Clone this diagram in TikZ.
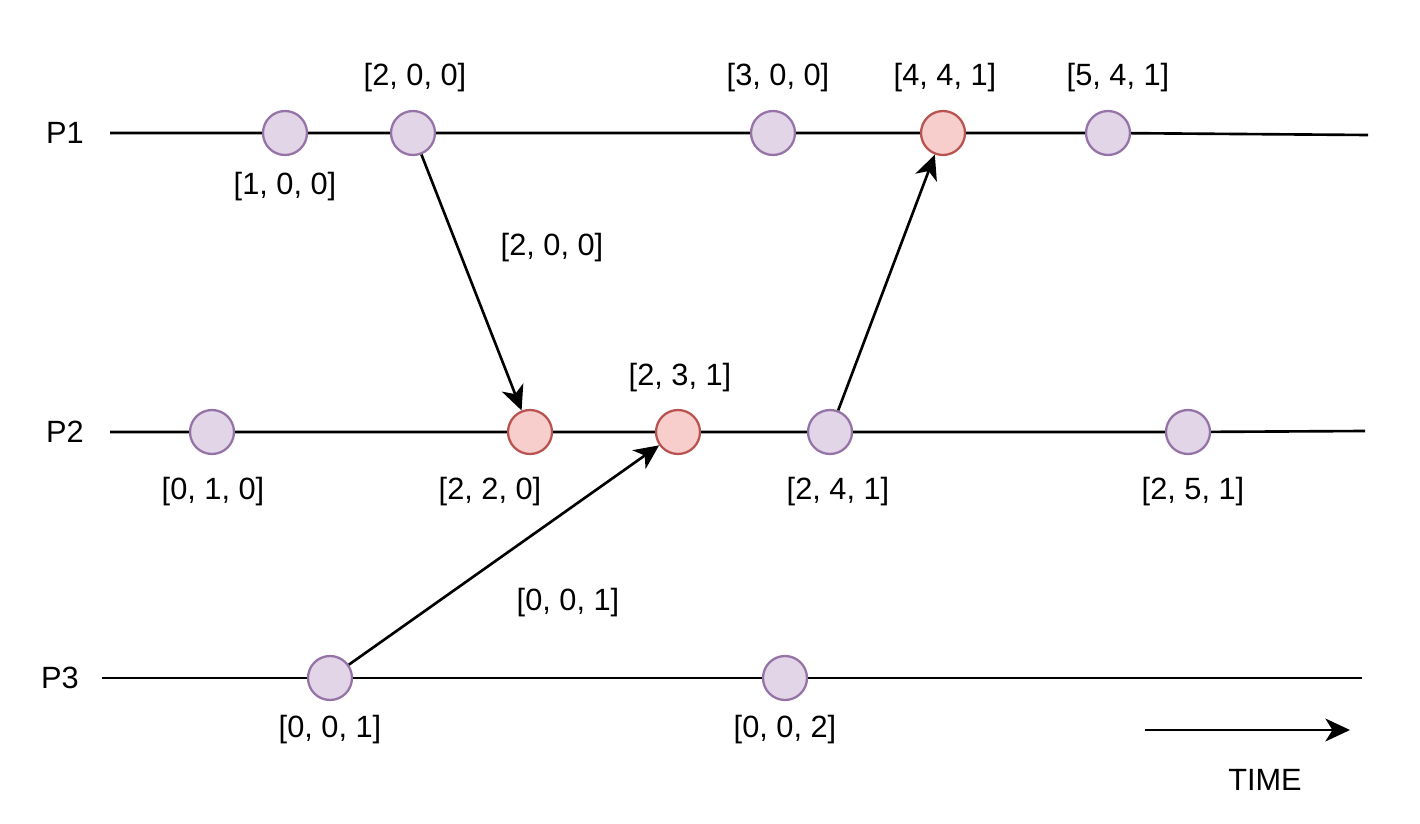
\documentclass[tikz,border=0pt]{standalone}
\usepackage{fontspec}
\setmainfont{Liberation Sans}
\usepackage{xcolor}
\usepackage{tikz}
\usetikzlibrary{arrows.meta, positioning}

\definecolor{evfill}{HTML}{E1D5E7}
\definecolor{evline}{HTML}{9673A6}
\definecolor{rcvfill}{HTML}{F8CECC}
\definecolor{rcvline}{HTML}{B85450}

\begin{document}
\begin{tikzpicture}[x=0.02cm, y=-0.02cm,
    ev/.style={circle, draw=evline, fill=evfill, line width=1.3pt, minimum size=0.88cm, inner sep=0pt},
    rcv/.style={ev, draw=rcvline, fill=rcvfill},
    lbl/.style={font=\fontsize{17.5}{21}\selectfont},
    tl/.style={line width=1.5pt},
    msg/.style={-{Stealth[length=14pt, width=13pt, inset=4pt]}, line width=1.5pt}]
    \useasboundingbox (0,0) rectangle (1420,824);

    % Tên các tiến trình
    \node[lbl] (n1) at (65,133) {P1};
    \node[lbl] (n2) at (65,432) {P2};
    \node[lbl] (n3) at (60,678) {P3};

    % Điểm đầu / cuối của các trục thời gian
    \coordinate (p1s) at (110,133);  \coordinate (p1e) at (1368,135);
    \coordinate (p2s) at (110,432);  \coordinate (p2e) at (1365,431);
    \coordinate (p3s) at (102,678);  \coordinate (p3e) at (1362,678);

    % Sự kiện của P1
    \node[ev]  (a1) at (285,133) {};
    \node[ev]  (a2) at (413,133) {};
    \node[ev]  (a3) at (773,133) {};
    \node[rcv] (a4) at (943,133) {};
    \node[ev]  (a5) at (1108,133) {};

    % Sự kiện của P2
    \node[ev]  (b1) at (212,432) {};
    \node[rcv] (b2) at (530,432) {};
    \node[rcv] (b3) at (678,432) {};
    \node[ev]  (b4) at (830,432) {};
    \node[ev]  (b5) at (1188,432) {};

    % Sự kiện của P3
    \node[ev] (c1) at (330,678) {};
    \node[ev] (c2) at (785,678) {};

    % Trục thời gian nối các sự kiện
    \draw[tl] (p1s) -- (a1) -- (a2) -- (a3) -- (a4) -- (a5) -- (p1e);
    \draw[tl] (p2s) -- (b1) -- (b2) -- (b3) -- (b4) -- (b5) -- (p2e);
    \draw[tl] (p3s) -- (c1) -- (c2) -- (p3e);

    % Thông điệp giữa các tiến trình
    \draw[msg] (a2) -- (b2);
    \draw[msg] (c1) -- (b3);
    \draw[msg] (b4) -- (a4);
    \node[lbl] (m1) at (552,248) {[2, 0, 0]};
    \node[lbl] (m2) at (568,603) {[0, 0, 1]};

    % Đồng hồ vector tại mỗi sự kiện
    \node[lbl] (la1) at (285,187) {[1, 0, 0]};
    \node[lbl] (la2) at (415,78) {[2, 0, 0]};
    \node[lbl] (la3) at (778,78) {[3, 0, 0]};
    \node[lbl] (la4) at (945,78) {[4, 4, 1]};
    \node[lbl] (la5) at (1118,78) {[5, 4, 1]};
    \node[lbl] (lb1) at (213,492) {[0, 1, 0]};
    \node[lbl] (lb2) at (490,492) {[2, 2, 0]};
    \node[lbl] (lb3) at (680,378) {[2, 3, 1]};
    \node[lbl] (lb4) at (838,492) {[2, 4, 1]};
    \node[lbl] (lb5) at (1193,492) {[2, 5, 1]};
    \node[lbl] (lc1) at (330,730) {[0, 0, 1]};
    \node[lbl] (lc2) at (785,730) {[0, 0, 2]};

    % Chiều thời gian
    \coordinate (t0) at (1145,730);
    \coordinate (t1) at (1350,730);
    \draw[msg] (t0) -- (t1);
    \node[lbl] (time) at (1265,780) {TIME};
\end{tikzpicture}
\end{document}
